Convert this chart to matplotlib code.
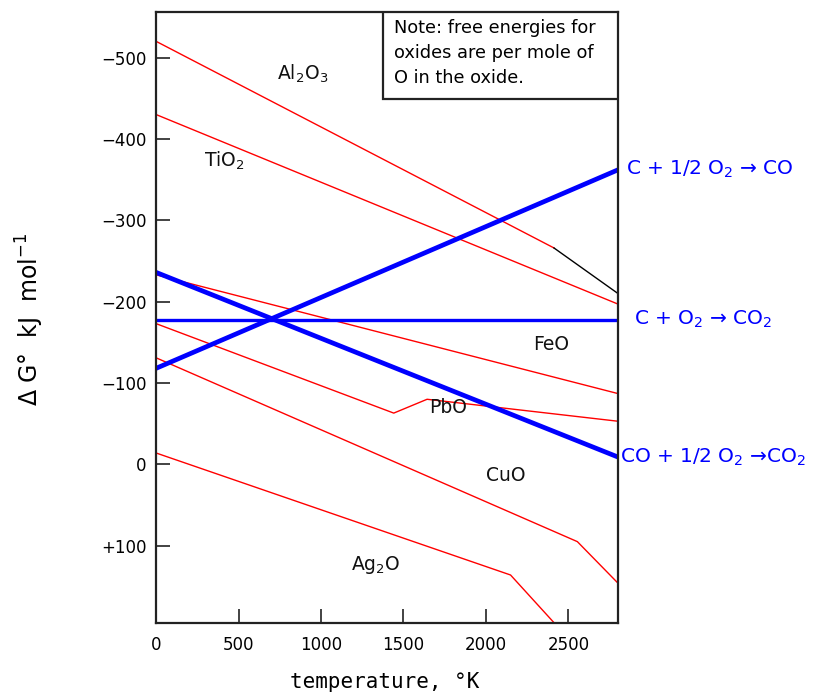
import matplotlib
matplotlib.use("Agg")
import matplotlib.pyplot as plt
from matplotlib.patches import Rectangle

plt.rcParams['font.family'] = ['DejaVu Sans']
plt.rcParams['mathtext.default'] = 'regular'

# ---- data (temperature K, free energy kJ per mol O) ----
al2o3_T = [0, 2412, 2800]
al2o3_G = [-520, -266, -210]
tio2_T = [0, 2800]
tio2_G = [-430, -197]
feo_T = [0, 2800]
feo_G = [-233, -87]
pbo_T = [0, 1441, 1643, 2800]
pbo_G = [-173, -63, -80, -53]
cuo_T = [0, 2554, 2800]
cuo_G = [-131, 95, 146]
ag2o_T = [0, 2149, 2450]
ag2o_G = [-14, 136, 203]

c_co_T = [0, 2800]
c_co_G = [-118, -362]
c_co2_T = [0, 2800]
c_co2_G = [-178, -178]
co_co2_T = [0, 2800]
co_co2_G = [-236, -9]

yticks = [-500, -400, -300, -200, -100, 0, 100]
yticklabels = ['\u2212500', '\u2212400', '\u2212300', '\u2212200', '\u2212100', '0', '+100']
xticks = [0, 500, 1000, 1500, 2000, 2500]

fig = plt.figure(figsize=(8.13, 6.94), dpi=100)
ax = fig.add_axes([0.1919, 0.1023, 0.5682, 0.8804])

red = '#ff0000'
blue = '#0000ff'

ax.plot(al2o3_T[:2], al2o3_G[:2], color=red, lw=1.0)
ax.plot(al2o3_T[1:], al2o3_G[1:], color='black', lw=1.0)
for T, G in [(tio2_T, tio2_G), (feo_T, feo_G), (pbo_T, pbo_G),
             (cuo_T, cuo_G), (ag2o_T, ag2o_G)]:
    ax.plot(T, G, color=red, lw=1.0)

ax.plot(c_co_T, c_co_G, color=blue, lw=3.4, solid_capstyle='butt')
ax.plot(c_co2_T, c_co2_G, color=blue, lw=2.4, solid_capstyle='butt')
ax.plot(co_co2_T, co_co2_G, color=blue, lw=3.4, solid_capstyle='butt')

ax.set_xlim(0, 2800)
ax.set_ylim(195, -556)

ax.set_yticks(yticks)
ax.set_yticklabels(yticklabels)
ax.set_xticks(xticks)
ax.tick_params(direction='in', length=10, width=1.2, labelsize=12, color='#222222')
ax.tick_params(axis='y', pad=7)
ax.tick_params(axis='x', pad=9)
for s in ax.spines.values():
    s.set_linewidth(1.6)
    s.set_color('#222222')

# oxide labels
lab_kw = dict(fontsize=13.5, ha='center', va='center', color='#111111')
ax.text(886, -480, 'Al$_2$O$_3$', **lab_kw)
ax.text(413, -373, 'TiO$_2$', **lab_kw)
ax.text(2392, -147, 'FeO', **lab_kw)
ax.text(1773, -70, 'PbO', **lab_kw)
ax.text(2119, 14, 'CuO', **lab_kw)
ax.text(1330, 124, 'Ag$_2$O', **lab_kw)

# note box
ax.add_patch(Rectangle((0.491, 0.8576), 0.509, 0.1424, transform=ax.transAxes,
                       fc='white', ec='#222222', lw=1.6, zorder=5))
ax.text(0.516, 0.988,
        'Note: free energies for\noxides are per mole of\nO in the oxide.',
        transform=ax.transAxes, ha='left', va='top', fontsize=12.8,
        linespacing=1.5, zorder=6)

# reaction labels (right of plot)
rk = dict(color=blue, fontsize=14.5, ha='left', va='center', clip_on=False)
ax.text(2850, -362, 'C + 1/2 O$_2$ \u2192 CO', **rk)
ax.text(2900, -178, 'C + O$_2$ \u2192 CO$_2$', **rk)
ax.text(2815, -9, 'CO + 1/2 O$_2$ \u2192CO$_2$', **rk)

ax.set_ylabel('\u0394 G\u00b0  kJ  mol$^{-1}$', fontsize=17, va='center')
ax.yaxis.set_label_coords(-0.272, 0.497)
ax.set_xlabel('temperature, \u00b0K', fontsize=15, family='DejaVu Sans Mono', va='center')
ax.xaxis.set_label_coords(0.494, -0.097)

fig.savefig('out.png', dpi=100)
